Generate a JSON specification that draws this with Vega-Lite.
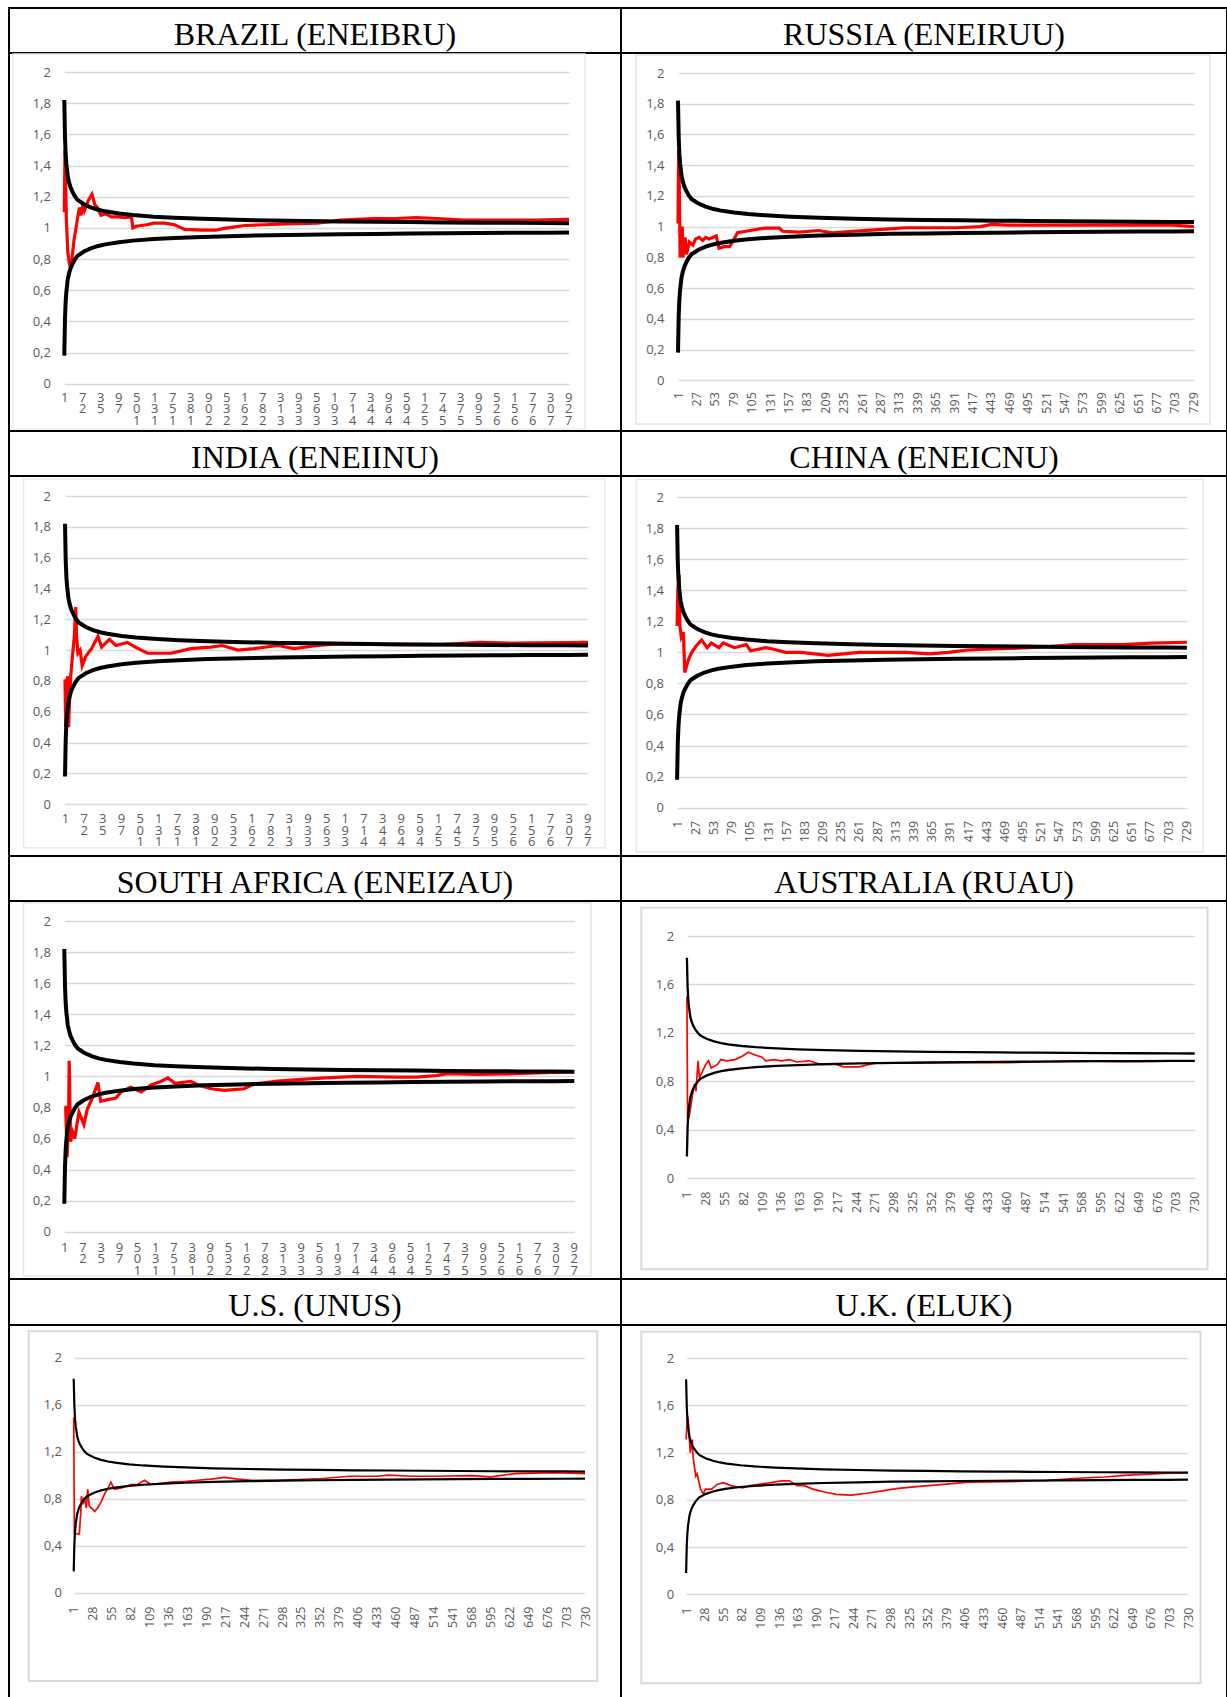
{
  "$schema": "https://vega.github.io/schema/vega-lite/v6.json",
  "padding": {"left": 8, "top": 7, "right": 0, "bottom": 0},
  "background": "white",
  "spacing": 0,
  "bounds": "flush",
  "columns": 2,
  "config": {
    "view": {"stroke": "black", "strokeWidth": 2},
    "style": {"view": {"stroke": "black", "strokeWidth": 2}},
    "concat": {"spacing": 0},
    "axis": {"labelFont": "Open Sans", "labelColor": "#595959", "labelFontSize": 13, "ticks": false, "domain": false, "labelFlush": false, "labelOverlap": false, "labelBound": false},
    "axisX": {"grid": false},
    "axisY": {"grid": true, "gridColor": "#d9d9d9", "gridWidth": 1.3}
  },
  "datasets": {
    "bounds": [
      {"n": 1, "u": 1.82, "l": 0.18}, {"n": 2, "u": 1.58, "l": 0.42}, {"n": 3, "u": 1.47, "l": 0.53},
      {"n": 4, "u": 1.41, "l": 0.59}, {"n": 6, "u": 1.33, "l": 0.67}, {"n": 8, "u": 1.29, "l": 0.71},
      {"n": 10, "u": 1.26, "l": 0.74}, {"n": 13, "u": 1.23, "l": 0.77}, {"n": 16, "u": 1.205, "l": 0.795},
      {"n": 20, "u": 1.18, "l": 0.82}, {"n": 25, "u": 1.165, "l": 0.835}, {"n": 30, "u": 1.15, "l": 0.85},
      {"n": 40, "u": 1.13, "l": 0.87}, {"n": 50, "u": 1.116, "l": 0.884}, {"n": 60, "u": 1.106, "l": 0.894},
      {"n": 80, "u": 1.092, "l": 0.908}, {"n": 100, "u": 1.082, "l": 0.918}, {"n": 130, "u": 1.072, "l": 0.928},
      {"n": 160, "u": 1.065, "l": 0.935}, {"n": 200, "u": 1.058, "l": 0.942}, {"n": 250, "u": 1.052, "l": 0.948},
      {"n": 300, "u": 1.047, "l": 0.953}, {"n": 350, "u": 1.044, "l": 0.956}, {"n": 400, "u": 1.041, "l": 0.959},
      {"n": 450, "u": 1.039, "l": 0.961}, {"n": 500, "u": 1.037, "l": 0.963}, {"n": 550, "u": 1.035, "l": 0.965},
      {"n": 600, "u": 1.033, "l": 0.967}, {"n": 650, "u": 1.032, "l": 0.968}, {"n": 700, "u": 1.031, "l": 0.969},
      {"n": 730, "u": 1.03, "l": 0.97}
    ],
    "frame": [{"k": "f"}],
    "red": [
      {"p":"BR","n":1,"v":1.1},{"p":"BR","n":2,"v":1.5},{"p":"BR","n":3,"v":1.3},{"p":"BR","n":4,"v":1.05},{"p":"BR","n":6,"v":0.85},{"p":"BR","n":8,"v":0.78},{"p":"BR","n":10,"v":0.74},{"p":"BR","n":12,"v":0.8},{"p":"BR","n":15,"v":0.92},{"p":"BR","n":18,"v":1.0},{"p":"BR","n":20,"v":1.06},{"p":"BR","n":23,"v":1.13},{"p":"BR","n":25,"v":1.08},{"p":"BR","n":28,"v":1.15},{"p":"BR","n":30,"v":1.11},{"p":"BR","n":35,"v":1.17},{"p":"BR","n":41,"v":1.215},{"p":"BR","n":45,"v":1.15},{"p":"BR","n":49,"v":1.13},{"p":"BR","n":54,"v":1.08},{"p":"BR","n":61,"v":1.09},{"p":"BR","n":69,"v":1.07},{"p":"BR","n":78,"v":1.07},{"p":"BR","n":88,"v":1.065},{"p":"BR","n":98,"v":1.07},{"p":"BR","n":100,"v":1.0},{"p":"BR","n":105,"v":1.01},{"p":"BR","n":120,"v":1.02},{"p":"BR","n":130,"v":1.03},{"p":"BR","n":146,"v":1.03},{"p":"BR","n":160,"v":1.02},{"p":"BR","n":170,"v":1.0},{"p":"BR","n":175,"v":0.99},{"p":"BR","n":200,"v":0.985},{"p":"BR","n":220,"v":0.985},{"p":"BR","n":230,"v":0.995},{"p":"BR","n":245,"v":1.005},{"p":"BR","n":262,"v":1.015},{"p":"BR","n":290,"v":1.02},{"p":"BR","n":320,"v":1.025},{"p":"BR","n":366,"v":1.03},{"p":"BR","n":385,"v":1.04},{"p":"BR","n":400,"v":1.05},{"p":"BR","n":447,"v":1.06},{"p":"BR","n":480,"v":1.06},{"p":"BR","n":510,"v":1.065},{"p":"BR","n":539,"v":1.06},{"p":"BR","n":560,"v":1.055},{"p":"BR","n":579,"v":1.05},{"p":"BR","n":620,"v":1.05},{"p":"BR","n":680,"v":1.05},{"p":"BR","n":730,"v":1.055},
      {"p":"RU","n":1,"v":1.02},{"p":"RU","n":2,"v":1.5},{"p":"RU","n":3,"v":1.2},{"p":"RU","n":4,"v":0.8},{"p":"RU","n":5,"v":0.9},{"p":"RU","n":7,"v":1.0},{"p":"RU","n":8,"v":0.8},{"p":"RU","n":11,"v":0.93},{"p":"RU","n":13,"v":0.82},{"p":"RU","n":17,"v":0.9},{"p":"RU","n":22,"v":0.88},{"p":"RU","n":26,"v":0.92},{"p":"RU","n":31,"v":0.93},{"p":"RU","n":36,"v":0.91},{"p":"RU","n":40,"v":0.93},{"p":"RU","n":45,"v":0.92},{"p":"RU","n":55,"v":0.94},{"p":"RU","n":59,"v":0.86},{"p":"RU","n":66,"v":0.87},{"p":"RU","n":74,"v":0.87},{"p":"RU","n":78,"v":0.9},{"p":"RU","n":85,"v":0.96},{"p":"RU","n":97,"v":0.97},{"p":"RU","n":116,"v":0.985},{"p":"RU","n":125,"v":0.99},{"p":"RU","n":144,"v":0.99},{"p":"RU","n":149,"v":0.97},{"p":"RU","n":172,"v":0.965},{"p":"RU","n":200,"v":0.975},{"p":"RU","n":219,"v":0.96},{"p":"RU","n":248,"v":0.97},{"p":"RU","n":274,"v":0.978},{"p":"RU","n":300,"v":0.985},{"p":"RU","n":323,"v":0.993},{"p":"RU","n":394,"v":0.993},{"p":"RU","n":428,"v":1.0},{"p":"RU","n":444,"v":1.015},{"p":"RU","n":466,"v":1.01},{"p":"RU","n":520,"v":1.01},{"p":"RU","n":576,"v":1.01},{"p":"RU","n":650,"v":1.01},{"p":"RU","n":700,"v":1.01},{"p":"RU","n":730,"v":1.0},
      {"p":"IN","n":1,"v":0.81},{"p":"IN","n":2,"v":0.5},{"p":"IN","n":3,"v":0.8},{"p":"IN","n":5,"v":0.83},{"p":"IN","n":6,"v":0.5},{"p":"IN","n":8,"v":0.75},{"p":"IN","n":9,"v":0.83},{"p":"IN","n":11,"v":0.94},{"p":"IN","n":14,"v":1.09},{"p":"IN","n":16,"v":1.28},{"p":"IN","n":17,"v":1.1},{"p":"IN","n":19,"v":0.98},{"p":"IN","n":22,"v":1.0},{"p":"IN","n":25,"v":0.9},{"p":"IN","n":30,"v":0.96},{"p":"IN","n":38,"v":1.01},{"p":"IN","n":47,"v":1.09},{"p":"IN","n":52,"v":1.02},{"p":"IN","n":63,"v":1.07},{"p":"IN","n":72,"v":1.03},{"p":"IN","n":88,"v":1.05},{"p":"IN","n":99,"v":1.02},{"p":"IN","n":116,"v":0.98},{"p":"IN","n":132,"v":0.98},{"p":"IN","n":149,"v":0.98},{"p":"IN","n":176,"v":1.01},{"p":"IN","n":204,"v":1.02},{"p":"IN","n":220,"v":1.03},{"p":"IN","n":242,"v":1.0},{"p":"IN","n":264,"v":1.01},{"p":"IN","n":298,"v":1.03},{"p":"IN","n":320,"v":1.01},{"p":"IN","n":353,"v":1.03},{"p":"IN","n":380,"v":1.04},{"p":"IN","n":463,"v":1.035},{"p":"IN","n":518,"v":1.035},{"p":"IN","n":579,"v":1.05},{"p":"IN","n":628,"v":1.045},{"p":"IN","n":730,"v":1.05},
      {"p":"CN","n":1,"v":1.17},{"p":"CN","n":2,"v":1.4},{"p":"CN","n":4,"v":1.5},{"p":"CN","n":5,"v":1.17},{"p":"CN","n":7,"v":1.1},{"p":"CN","n":10,"v":1.13},{"p":"CN","n":12,"v":0.87},{"p":"CN","n":17,"v":0.95},{"p":"CN","n":22,"v":1.0},{"p":"CN","n":28,"v":1.04},{"p":"CN","n":36,"v":1.08},{"p":"CN","n":44,"v":1.03},{"p":"CN","n":50,"v":1.06},{"p":"CN","n":61,"v":1.03},{"p":"CN","n":67,"v":1.06},{"p":"CN","n":83,"v":1.03},{"p":"CN","n":100,"v":1.05},{"p":"CN","n":106,"v":1.01},{"p":"CN","n":128,"v":1.03},{"p":"CN","n":139,"v":1.02},{"p":"CN","n":156,"v":1.0},{"p":"CN","n":178,"v":1.0},{"p":"CN","n":217,"v":0.98},{"p":"CN","n":239,"v":0.99},{"p":"CN","n":261,"v":1.0},{"p":"CN","n":284,"v":1.0},{"p":"CN","n":328,"v":1.0},{"p":"CN","n":362,"v":0.99},{"p":"CN","n":389,"v":1.0},{"p":"CN","n":417,"v":1.015},{"p":"CN","n":473,"v":1.025},{"p":"CN","n":528,"v":1.035},{"p":"CN","n":568,"v":1.05},{"p":"CN","n":640,"v":1.05},{"p":"CN","n":679,"v":1.06},{"p":"CN","n":730,"v":1.065},
      {"p":"ZA","n":1,"v":0.8},{"p":"ZA","n":3,"v":0.8},{"p":"ZA","n":5,"v":0.48},{"p":"ZA","n":7,"v":0.69},{"p":"ZA","n":8,"v":1.1},{"p":"ZA","n":10,"v":0.58},{"p":"ZA","n":13,"v":0.64},{"p":"ZA","n":16,"v":0.6},{"p":"ZA","n":19,"v":0.69},{"p":"ZA","n":22,"v":0.77},{"p":"ZA","n":29,"v":0.69},{"p":"ZA","n":34,"v":0.79},{"p":"ZA","n":41,"v":0.86},{"p":"ZA","n":49,"v":0.96},{"p":"ZA","n":53,"v":0.84},{"p":"ZA","n":63,"v":0.85},{"p":"ZA","n":75,"v":0.86},{"p":"ZA","n":82,"v":0.9},{"p":"ZA","n":96,"v":0.93},{"p":"ZA","n":111,"v":0.9},{"p":"ZA","n":125,"v":0.945},{"p":"ZA","n":139,"v":0.967},{"p":"ZA","n":149,"v":0.99},{"p":"ZA","n":159,"v":0.955},{"p":"ZA","n":182,"v":0.967},{"p":"ZA","n":192,"v":0.945},{"p":"ZA","n":211,"v":0.92},{"p":"ZA","n":230,"v":0.91},{"p":"ZA","n":258,"v":0.92},{"p":"ZA","n":272,"v":0.95},{"p":"ZA","n":306,"v":0.97},{"p":"ZA","n":340,"v":0.98},{"p":"ZA","n":374,"v":0.99},{"p":"ZA","n":419,"v":1.0},{"p":"ZA","n":476,"v":0.995},{"p":"ZA","n":504,"v":0.995},{"p":"ZA","n":532,"v":1.005},{"p":"ZA","n":549,"v":1.017},{"p":"ZA","n":589,"v":1.013},{"p":"ZA","n":645,"v":1.017},{"p":"ZA","n":730,"v":1.03},
      {"p":"AU","n":1,"v":1.5},{"p":"AU","n":2,"v":0.5},{"p":"AU","n":4,"v":0.5},{"p":"AU","n":7,"v":0.61},{"p":"AU","n":9,"v":0.69},{"p":"AU","n":12,"v":0.78},{"p":"AU","n":14,"v":0.72},{"p":"AU","n":17,"v":0.97},{"p":"AU","n":19,"v":0.83},{"p":"AU","n":24,"v":0.89},{"p":"AU","n":28,"v":0.94},{"p":"AU","n":32,"v":0.97},{"p":"AU","n":36,"v":0.91},{"p":"AU","n":45,"v":0.94},{"p":"AU","n":50,"v":0.98},{"p":"AU","n":58,"v":0.97},{"p":"AU","n":70,"v":0.98},{"p":"AU","n":81,"v":1.01},{"p":"AU","n":89,"v":1.04},{"p":"AU","n":98,"v":1.02},{"p":"AU","n":109,"v":1.0},{"p":"AU","n":114,"v":0.97},{"p":"AU","n":126,"v":0.98},{"p":"AU","n":137,"v":0.97},{"p":"AU","n":148,"v":0.98},{"p":"AU","n":159,"v":0.96},{"p":"AU","n":176,"v":0.97},{"p":"AU","n":193,"v":0.94},{"p":"AU","n":215,"v":0.94},{"p":"AU","n":226,"v":0.92},{"p":"AU","n":248,"v":0.92},{"p":"AU","n":271,"v":0.95},{"p":"AU","n":293,"v":0.95},{"p":"AU","n":349,"v":0.955},{"p":"AU","n":405,"v":0.955},{"p":"AU","n":461,"v":0.955},{"p":"AU","n":517,"v":0.963},{"p":"AU","n":572,"v":0.97},{"p":"AU","n":628,"v":0.963},{"p":"AU","n":730,"v":0.97},
      {"p":"US","n":1,"v":1.49},{"p":"US","n":2,"v":0.5},{"p":"US","n":9,"v":0.5},{"p":"US","n":11,"v":0.67},{"p":"US","n":12,"v":0.82},{"p":"US","n":14,"v":0.75},{"p":"US","n":16,"v":0.81},{"p":"US","n":19,"v":0.72},{"p":"US","n":21,"v":0.88},{"p":"US","n":23,"v":0.74},{"p":"US","n":26,"v":0.72},{"p":"US","n":31,"v":0.69},{"p":"US","n":35,"v":0.72},{"p":"US","n":40,"v":0.77},{"p":"US","n":45,"v":0.84},{"p":"US","n":50,"v":0.89},{"p":"US","n":54,"v":0.94},{"p":"US","n":59,"v":0.88},{"p":"US","n":69,"v":0.89},{"p":"US","n":83,"v":0.92},{"p":"US","n":92,"v":0.92},{"p":"US","n":102,"v":0.956},{"p":"US","n":111,"v":0.92},{"p":"US","n":126,"v":0.93},{"p":"US","n":140,"v":0.94},{"p":"US","n":159,"v":0.945},{"p":"US","n":178,"v":0.956},{"p":"US","n":197,"v":0.965},{"p":"US","n":216,"v":0.98},{"p":"US","n":235,"v":0.965},{"p":"US","n":254,"v":0.955},{"p":"US","n":292,"v":0.955},{"p":"US","n":348,"v":0.967},{"p":"US","n":394,"v":0.99},{"p":"US","n":433,"v":0.99},{"p":"US","n":450,"v":1.0},{"p":"US","n":483,"v":0.99},{"p":"US","n":518,"v":0.99},{"p":"US","n":568,"v":0.995},{"p":"US","n":596,"v":0.985},{"p":"US","n":630,"v":1.013},{"p":"US","n":687,"v":1.02},{"p":"US","n":730,"v":1.013},
      {"p":"UK","n":1,"v":1.31},{"p":"UK","n":3,"v":1.51},{"p":"UK","n":4,"v":1.48},{"p":"UK","n":7,"v":1.2},{"p":"UK","n":10,"v":1.31},{"p":"UK","n":11,"v":1.17},{"p":"UK","n":15,"v":1.0},{"p":"UK","n":17,"v":1.02},{"p":"UK","n":22,"v":0.89},{"p":"UK","n":26,"v":0.85},{"p":"UK","n":29,"v":0.89},{"p":"UK","n":38,"v":0.89},{"p":"UK","n":46,"v":0.93},{"p":"UK","n":55,"v":0.945},{"p":"UK","n":66,"v":0.92},{"p":"UK","n":83,"v":0.9},{"p":"UK","n":94,"v":0.92},{"p":"UK","n":117,"v":0.94},{"p":"UK","n":140,"v":0.96},{"p":"UK","n":151,"v":0.96},{"p":"UK","n":162,"v":0.92},{"p":"UK","n":173,"v":0.92},{"p":"UK","n":185,"v":0.89},{"p":"UK","n":202,"v":0.866},{"p":"UK","n":219,"v":0.846},{"p":"UK","n":241,"v":0.84},{"p":"UK","n":264,"v":0.855},{"p":"UK","n":286,"v":0.875},{"p":"UK","n":309,"v":0.897},{"p":"UK","n":332,"v":0.91},{"p":"UK","n":354,"v":0.92},{"p":"UK","n":383,"v":0.934},{"p":"UK","n":411,"v":0.95},{"p":"UK","n":467,"v":0.954},{"p":"UK","n":524,"v":0.962},{"p":"UK","n":563,"v":0.98},{"p":"UK","n":609,"v":0.993},{"p":"UK","n":637,"v":1.007},{"p":"UK","n":693,"v":1.024},{"p":"UK","n":730,"v":1.03}
    ]
  },
  "concat": [
    {"width": 612, "height": 45, "view": {"stroke": "black", "strokeWidth": 2}, "data": {"values": [{"t": "BRAZIL (ENEIBRU)"}]}, "mark": {"type": "text", "font": "Liberation Serif", "fontSize": 32, "dy": 4, "color": "black"}, "encoding": {"text": {"field": "t"}, "x": {"datum": 0.5, "type": "quantitative", "scale": {"domain": [0, 1]}, "axis": null}, "y": {"datum": 0.5, "type": "quantitative", "scale": {"domain": [0, 1]}, "axis": null}}},
    {"width": 606, "height": 45, "view": {"stroke": "black", "strokeWidth": 2}, "data": {"values": [{"t": "RUSSIA (ENEIRUU)"}]}, "mark": {"type": "text", "font": "Liberation Serif", "fontSize": 32, "dy": 4, "color": "black"}, "encoding": {"text": {"field": "t"}, "x": {"datum": 0.5, "type": "quantitative", "scale": {"domain": [0, 1]}, "axis": null}, "y": {"datum": 0.5, "type": "quantitative", "scale": {"domain": [0, 1]}, "axis": null}}},
    {"width": 612, "height": 378,
     "layer": [
       {"data": {"name": "frame"}, "mark": {"type": "rect", "filled": false, "stroke": "#ebebeb", "strokeWidth": 1.5},
        "encoding": {
          "x": {"datum": -73.1, "type": "quantitative", "title": null, "scale": {"domain": [1, 730], "range": [55.3, 560], "nice": false, "zero": false},
                "axis": {"values": [1,27,53,79,105,131,157,183,209,235,261,287,313,339,365,391,417,443,469,495,521,547,573,599,625,651,677,703,729], "format": "d", "offset": -47.3, "labelPadding": 7.3, "labelAngle": 0, "labelAlign": "center", "labelBaseline": "top", "labelDx": 6, "labelLineHeight": 11.5, "labelOverlap": false, "labelFlush": false, "labelBound": false, "labelExpr": "reverse(split(datum.label, ''))"}},
          "x2": {"datum": 753.1},
          "y": {"datum": 2.1156, "type": "quantitative", "title": null, "scale": {"domain": [0, 2], "range": [330.7, 19], "nice": false, "zero": false},
                "axis": {"values": [0,0.2,0.4,0.6,0.8,1,1.2,1.4,1.6,1.8,2], "offset": -55.3, "labelPadding": 13.9, "labelOverlap": false, "labelFlush": false, "labelExpr": "replace(format(datum.value, '.1~f'), '.', ',')"}},
          "y2": {"datum": -0.2907}}},
       {"encoding": {
         "x": {"field": "n", "type": "quantitative", "title": null, "scale": {"domain": [1, 730], "range": [55.3, 560], "nice": false, "zero": false},
               "axis": {"values": [1,27,53,79,105,131,157,183,209,235,261,287,313,339,365,391,417,443,469,495,521,547,573,599,625,651,677,703,729], "format": "d", "offset": -47.3, "labelPadding": 7.3, "labelAngle": 0, "labelAlign": "center", "labelBaseline": "top", "labelDx": 6, "labelLineHeight": 11.5, "labelOverlap": false, "labelFlush": false, "labelBound": false, "labelExpr": "reverse(split(datum.label, ''))"}},
         "y": {"field": "v", "type": "quantitative", "title": null, "scale": {"domain": [0, 2], "range": [330.7, 19], "nice": false, "zero": false},
               "axis": {"values": [0,0.2,0.4,0.6,0.8,1,1.2,1.4,1.6,1.8,2], "offset": -55.3, "labelPadding": 13.9, "labelOverlap": false, "labelFlush": false, "labelExpr": "replace(format(datum.value, '.1~f'), '.', ',')"}}
        },
        "layer": [
         {"data": {"name": "red"}, "transform": [{"filter": "datum.p === 'BR'"}], "mark": {"type": "line", "color": "#ff0000", "strokeWidth": 3.2}},
         {"data": {"name": "bounds"}, "transform": [{"fold": ["u", "l"], "as": ["s", "v"]}], "mark": {"type": "line", "color": "black", "strokeWidth": 4}, "encoding": {"detail": {"field": "s"}}}
       ]}
     ]},
    {"width": 606, "height": 378,
     "layer": [
       {"data": {"name": "frame"}, "mark": {"type": "rect", "filled": false, "stroke": "#e3e3e3", "strokeWidth": 1.5},
        "encoding": {
          "x": {"datum": -58.3, "type": "quantitative", "title": null, "scale": {"domain": [1, 730], "range": [57, 573], "nice": false, "zero": false},
                "axis": {"values": [1,27,53,79,105,131,157,183,209,235,261,287,313,339,365,391,417,443,469,495,521,547,573,599,625,651,677,703,729], "format": "d", "offset": -50.7, "labelPadding": 11.4, "labelAngle": -90, "labelFontSize": 12.5, "labelOverlap": false, "labelFlush": false, "labelBound": false}},
          "x2": {"datum": 752.6},
          "y": {"datum": 2.1172, "type": "quantitative", "title": null, "scale": {"domain": [0, 2], "range": [327.3, 20], "nice": false, "zero": false},
                "axis": {"values": [0,0.2,0.4,0.6,0.8,1,1.2,1.4,1.6,1.8,2], "offset": -57, "labelPadding": 14.1, "labelOverlap": false, "labelFlush": false, "labelExpr": "replace(format(datum.value, '.1~f'), '.', ',')"}},
          "y2": {"datum": -0.2844}}},
       {"encoding": {
         "x": {"field": "n", "type": "quantitative", "title": null, "scale": {"domain": [1, 730], "range": [57, 573], "nice": false, "zero": false},
               "axis": {"values": [1,27,53,79,105,131,157,183,209,235,261,287,313,339,365,391,417,443,469,495,521,547,573,599,625,651,677,703,729], "format": "d", "offset": -50.7, "labelPadding": 11.4, "labelAngle": -90, "labelFontSize": 12.5, "labelOverlap": false, "labelFlush": false, "labelBound": false}},
         "y": {"field": "v", "type": "quantitative", "title": null, "scale": {"domain": [0, 2], "range": [327.3, 20], "nice": false, "zero": false},
               "axis": {"values": [0,0.2,0.4,0.6,0.8,1,1.2,1.4,1.6,1.8,2], "offset": -57, "labelPadding": 14.1, "labelOverlap": false, "labelFlush": false, "labelExpr": "replace(format(datum.value, '.1~f'), '.', ',')"}}
        },
        "layer": [
         {"data": {"name": "red"}, "transform": [{"filter": "datum.p === 'RU'"}], "mark": {"type": "line", "color": "#ff0000", "strokeWidth": 3.2}},
         {"data": {"name": "bounds"}, "transform": [{"fold": ["u", "l"], "as": ["s", "v"]}], "mark": {"type": "line", "color": "black", "strokeWidth": 4}, "encoding": {"detail": {"field": "s"}}}
       ]}
     ]},
    {"width": 612, "height": 45, "view": {"stroke": "black", "strokeWidth": 2}, "data": {"values": [{"t": "INDIA (ENEIINU)"}]}, "mark": {"type": "text", "font": "Liberation Serif", "fontSize": 32, "dy": 4, "color": "black"}, "encoding": {"text": {"field": "t"}, "x": {"datum": 0.5, "type": "quantitative", "scale": {"domain": [0, 1]}, "axis": null}, "y": {"datum": 0.5, "type": "quantitative", "scale": {"domain": [0, 1]}, "axis": null}}},
    {"width": 606, "height": 45, "view": {"stroke": "black", "strokeWidth": 2}, "data": {"values": [{"t": "CHINA (ENEICNU)"}]}, "mark": {"type": "text", "font": "Liberation Serif", "fontSize": 32, "dy": 4, "color": "black"}, "encoding": {"text": {"field": "t"}, "x": {"datum": 0.5, "type": "quantitative", "scale": {"domain": [0, 1]}, "axis": null}, "y": {"datum": 0.5, "type": "quantitative", "scale": {"domain": [0, 1]}, "axis": null}}},
    {"width": 612, "height": 380,
     "layer": [
       {"data": {"name": "frame"}, "mark": {"type": "rect", "filled": false, "stroke": "#ebebeb", "strokeWidth": 1.5},
        "encoding": {
          "x": {"datum": -56.85, "type": "quantitative", "title": null, "scale": {"domain": [1, 730], "range": [56, 579], "nice": false, "zero": false},
                "axis": {"values": [1,27,53,79,105,131,157,183,209,235,261,287,313,339,365,391,417,443,469,495,521,547,573,599,625,651,677,703,729], "format": "d", "offset": -51.7, "labelPadding": 8.4, "labelAngle": 0, "labelAlign": "center", "labelBaseline": "top", "labelDx": 6, "labelLineHeight": 11.5, "labelOverlap": false, "labelFlush": false, "labelBound": false, "labelExpr": "reverse(split(datum.label, ''))"}},
          "x2": {"datum": 753.7},
          "y": {"datum": 2.1103, "type": "quantitative", "title": null, "scale": {"domain": [0, 2], "range": [328.3, 20], "nice": false, "zero": false},
                "axis": {"values": [0,0.2,0.4,0.6,0.8,1,1.2,1.4,1.6,1.8,2], "offset": -56, "labelPadding": 14.6, "labelOverlap": false, "labelFlush": false, "labelExpr": "replace(format(datum.value, '.1~f'), '.', ',')"}},
          "y2": {"datum": -0.2815}}},
       {"encoding": {
         "x": {"field": "n", "type": "quantitative", "title": null, "scale": {"domain": [1, 730], "range": [56, 579], "nice": false, "zero": false},
               "axis": {"values": [1,27,53,79,105,131,157,183,209,235,261,287,313,339,365,391,417,443,469,495,521,547,573,599,625,651,677,703,729], "format": "d", "offset": -51.7, "labelPadding": 8.4, "labelAngle": 0, "labelAlign": "center", "labelBaseline": "top", "labelDx": 6, "labelLineHeight": 11.5, "labelOverlap": false, "labelFlush": false, "labelBound": false, "labelExpr": "reverse(split(datum.label, ''))"}},
         "y": {"field": "v", "type": "quantitative", "title": null, "scale": {"domain": [0, 2], "range": [328.3, 20], "nice": false, "zero": false},
               "axis": {"values": [0,0.2,0.4,0.6,0.8,1,1.2,1.4,1.6,1.8,2], "offset": -56, "labelPadding": 14.6, "labelOverlap": false, "labelFlush": false, "labelExpr": "replace(format(datum.value, '.1~f'), '.', ',')"}}
        },
        "layer": [
         {"data": {"name": "red"}, "transform": [{"filter": "datum.p === 'IN'"}], "mark": {"type": "line", "color": "#ff0000", "strokeWidth": 3.2}},
         {"data": {"name": "bounds"}, "transform": [{"fold": ["u", "l"], "as": ["s", "v"]}], "mark": {"type": "line", "color": "black", "strokeWidth": 4}, "encoding": {"detail": {"field": "s"}}}
       ]}
     ]},
    {"width": 606, "height": 380,
     "layer": [
       {"data": {"name": "frame"}, "mark": {"type": "rect", "filled": false, "stroke": "#e6e6e6", "strokeWidth": 1.5},
        "encoding": {
          "x": {"datum": -57.34, "type": "quantitative", "title": null, "scale": {"domain": [1, 730], "range": [56.1, 565.9], "nice": false, "zero": false},
                "axis": {"values": [1,27,53,79,105,131,157,183,209,235,261,287,313,339,365,391,417,443,469,495,521,547,573,599,625,651,677,703,729], "format": "d", "offset": -48.3, "labelPadding": 12.6, "labelAngle": -90, "labelFontSize": 12.5, "labelOverlap": false, "labelFlush": false, "labelBound": false}},
          "x2": {"datum": 752.7},
          "y": {"datum": 2.1139, "type": "quantitative", "title": null, "scale": {"domain": [0, 2], "range": [331.7, 21], "nice": false, "zero": false},
                "axis": {"values": [0,0.2,0.4,0.6,0.8,1,1.2,1.4,1.6,1.8,2], "offset": -56.1, "labelPadding": 13.6, "labelOverlap": false, "labelFlush": false, "labelExpr": "replace(format(datum.value, '.1~f'), '.', ',')"}},
          "y2": {"datum": -0.2852}}},
       {"encoding": {
         "x": {"field": "n", "type": "quantitative", "title": null, "scale": {"domain": [1, 730], "range": [56.1, 565.9], "nice": false, "zero": false},
               "axis": {"values": [1,27,53,79,105,131,157,183,209,235,261,287,313,339,365,391,417,443,469,495,521,547,573,599,625,651,677,703,729], "format": "d", "offset": -48.3, "labelPadding": 12.6, "labelAngle": -90, "labelFontSize": 12.5, "labelOverlap": false, "labelFlush": false, "labelBound": false}},
         "y": {"field": "v", "type": "quantitative", "title": null, "scale": {"domain": [0, 2], "range": [331.7, 21], "nice": false, "zero": false},
               "axis": {"values": [0,0.2,0.4,0.6,0.8,1,1.2,1.4,1.6,1.8,2], "offset": -56.1, "labelPadding": 13.6, "labelOverlap": false, "labelFlush": false, "labelExpr": "replace(format(datum.value, '.1~f'), '.', ',')"}}
        },
        "layer": [
         {"data": {"name": "red"}, "transform": [{"filter": "datum.p === 'CN'"}], "mark": {"type": "line", "color": "#ff0000", "strokeWidth": 3.2}},
         {"data": {"name": "bounds"}, "transform": [{"fold": ["u", "l"], "as": ["s", "v"]}], "mark": {"type": "line", "color": "black", "strokeWidth": 4}, "encoding": {"detail": {"field": "s"}}}
       ]}
     ]},
    {"width": 612, "height": 45, "view": {"stroke": "black", "strokeWidth": 2}, "data": {"values": [{"t": "SOUTH AFRICA (ENEIZAU)"}]}, "mark": {"type": "text", "font": "Liberation Serif", "fontSize": 32, "dy": 4, "color": "black"}, "encoding": {"text": {"field": "t"}, "x": {"datum": 0.5, "type": "quantitative", "scale": {"domain": [0, 1]}, "axis": null}, "y": {"datum": 0.5, "type": "quantitative", "scale": {"domain": [0, 1]}, "axis": null}}},
    {"width": 606, "height": 45, "view": {"stroke": "black", "strokeWidth": 2}, "data": {"values": [{"t": "AUSTRALIA (RUAU)"}]}, "mark": {"type": "text", "font": "Liberation Serif", "fontSize": 32, "dy": 4, "color": "black"}, "encoding": {"text": {"field": "t"}, "x": {"datum": 0.5, "type": "quantitative", "scale": {"domain": [0, 1]}, "axis": null}, "y": {"datum": 0.5, "type": "quantitative", "scale": {"domain": [0, 1]}, "axis": null}}},
    {"width": 612, "height": 378,
     "layer": [
       {"data": {"name": "frame"}, "mark": {"type": "rect", "filled": false, "stroke": "#e6e6e6", "strokeWidth": 1.5},
        "encoding": {
          "x": {"datum": -57.32, "type": "quantitative", "title": null, "scale": {"domain": [1, 730], "range": [55.3, 565.3], "nice": false, "zero": false},
                "axis": {"values": [1,27,53,79,105,131,157,183,209,235,261,287,313,339,365,391,417,443,469,495,521,547,573,599,625,651,677,703,729], "format": "d", "offset": -47.3, "labelPadding": 9.3, "labelAngle": 0, "labelAlign": "center", "labelBaseline": "top", "labelDx": 6, "labelLineHeight": 11.5, "labelOverlap": false, "labelFlush": false, "labelBound": false, "labelExpr": "reverse(split(datum.label, ''))"}},
          "x2": {"datum": 753.9},
          "y": {"datum": 2.1178, "type": "quantitative", "title": null, "scale": {"domain": [0, 2], "range": [330.7, 20], "nice": false, "zero": false},
                "axis": {"values": [0,0.2,0.4,0.6,0.8,1,1.2,1.4,1.6,1.8,2], "offset": -55.3, "labelPadding": 13.9, "labelOverlap": false, "labelFlush": false, "labelExpr": "replace(format(datum.value, '.1~f'), '.', ',')"}},
          "y2": {"datum": -0.2852}}},
       {"encoding": {
         "x": {"field": "n", "type": "quantitative", "title": null, "scale": {"domain": [1, 730], "range": [55.3, 565.3], "nice": false, "zero": false},
               "axis": {"values": [1,27,53,79,105,131,157,183,209,235,261,287,313,339,365,391,417,443,469,495,521,547,573,599,625,651,677,703,729], "format": "d", "offset": -47.3, "labelPadding": 9.3, "labelAngle": 0, "labelAlign": "center", "labelBaseline": "top", "labelDx": 6, "labelLineHeight": 11.5, "labelOverlap": false, "labelFlush": false, "labelBound": false, "labelExpr": "reverse(split(datum.label, ''))"}},
         "y": {"field": "v", "type": "quantitative", "title": null, "scale": {"domain": [0, 2], "range": [330.7, 20], "nice": false, "zero": false},
               "axis": {"values": [0,0.2,0.4,0.6,0.8,1,1.2,1.4,1.6,1.8,2], "offset": -55.3, "labelPadding": 13.9, "labelOverlap": false, "labelFlush": false, "labelExpr": "replace(format(datum.value, '.1~f'), '.', ',')"}}
        },
        "layer": [
         {"data": {"name": "red"}, "transform": [{"filter": "datum.p === 'ZA'"}], "mark": {"type": "line", "color": "#ff0000", "strokeWidth": 3.2}},
         {"data": {"name": "bounds"}, "transform": [{"fold": ["u", "l"], "as": ["s", "v"]}], "mark": {"type": "line", "color": "black", "strokeWidth": 4}, "encoding": {"detail": {"field": "s"}}}
       ]}
     ]},
    {"width": 606, "height": 378,
     "layer": [
       {"data": {"name": "frame"}, "mark": {"type": "rect", "filled": false, "stroke": "#d9d9d9", "strokeWidth": 2},
        "encoding": {
          "x": {"datum": -64.46, "type": "quantitative", "title": null, "scale": {"domain": [1, 730], "range": [65.9, 573.7], "nice": false, "zero": false},
                "axis": {"values": [1,28,55,82,109,136,163,190,217,244,271,298,325,352,379,406,433,460,487,514,541,568,595,622,649,676,703,730], "format": "d", "offset": -100.7, "labelPadding": 12.7, "labelAngle": -90, "labelFontSize": 12.5, "labelOverlap": false, "labelFlush": false, "labelBound": false}},
          "x2": {"datum": 748.4},
          "y": {"datum": 2.2336, "type": "quantitative", "title": null, "scale": {"domain": [0, 2], "range": [277.3, 35], "nice": false, "zero": false},
                "axis": {"values": [0,0.4,0.8,1.2,1.6,2], "offset": -65.9, "labelPadding": 13.3, "labelOverlap": false, "labelFlush": false, "labelExpr": "replace(format(datum.value, '.1~f'), '.', ',')"}},
          "y2": {"datum": -0.7511}}},
       {"encoding": {
         "x": {"field": "n", "type": "quantitative", "title": null, "scale": {"domain": [1, 730], "range": [65.9, 573.7], "nice": false, "zero": false},
               "axis": {"values": [1,28,55,82,109,136,163,190,217,244,271,298,325,352,379,406,433,460,487,514,541,568,595,622,649,676,703,730], "format": "d", "offset": -100.7, "labelPadding": 12.7, "labelAngle": -90, "labelFontSize": 12.5, "labelOverlap": false, "labelFlush": false, "labelBound": false}},
         "y": {"field": "v", "type": "quantitative", "title": null, "scale": {"domain": [0, 2], "range": [277.3, 35], "nice": false, "zero": false},
               "axis": {"values": [0,0.4,0.8,1.2,1.6,2], "offset": -65.9, "labelPadding": 13.3, "labelOverlap": false, "labelFlush": false, "labelExpr": "replace(format(datum.value, '.1~f'), '.', ',')"}}
        },
        "layer": [
         {"data": {"name": "red"}, "transform": [{"filter": "datum.p === 'AU'"}], "mark": {"type": "line", "color": "#ff0000", "strokeWidth": 1.7}},
         {"data": {"name": "bounds"}, "transform": [{"fold": ["u", "l"], "as": ["s", "v"]}], "mark": {"type": "line", "color": "black", "strokeWidth": 2.3}, "encoding": {"detail": {"field": "s"}}}
       ]}
     ]},
    {"width": 612, "height": 46, "view": {"stroke": "black", "strokeWidth": 2}, "data": {"values": [{"t": "U.S. (UNUS)"}]}, "mark": {"type": "text", "font": "Liberation Serif", "fontSize": 32, "dy": 4, "color": "black"}, "encoding": {"text": {"field": "t"}, "x": {"datum": 0.5, "type": "quantitative", "scale": {"domain": [0, 1]}, "axis": null}, "y": {"datum": 0.5, "type": "quantitative", "scale": {"domain": [0, 1]}, "axis": null}}},
    {"width": 606, "height": 46, "view": {"stroke": "black", "strokeWidth": 2}, "data": {"values": [{"t": "U.K. (ELUK)"}]}, "mark": {"type": "text", "font": "Liberation Serif", "fontSize": 32, "dy": 4, "color": "black"}, "encoding": {"text": {"field": "t"}, "x": {"datum": 0.5, "type": "quantitative", "scale": {"domain": [0, 1]}, "axis": null}, "y": {"datum": 0.5, "type": "quantitative", "scale": {"domain": [0, 1]}, "axis": null}}},
    {"width": 612, "height": 374,
     "layer": [
       {"data": {"name": "frame"}, "mark": {"type": "rect", "filled": false, "stroke": "#d9d9d9", "strokeWidth": 2},
        "encoding": {
          "x": {"datum": -63.16, "type": "quantitative", "title": null, "scale": {"domain": [1, 730], "range": [64.7, 576], "nice": false, "zero": false},
                "axis": {"values": [1,28,55,82,109,136,163,190,217,244,271,298,325,352,379,406,433,460,487,514,541,568,595,622,649,676,703,730], "format": "d", "offset": -106.5, "labelPadding": 13.5, "labelAngle": -90, "labelFontSize": 12.5, "labelOverlap": false, "labelFlush": false, "labelBound": false}},
          "x2": {"datum": 747.5},
          "y": {"datum": 2.2249, "type": "quantitative", "title": null, "scale": {"domain": [0, 2], "range": [267.5, 32.7], "nice": false, "zero": false},
                "axis": {"values": [0,0.4,0.8,1.2,1.6,2], "offset": -64.7, "labelPadding": 12.2, "labelOverlap": false, "labelFlush": false, "labelExpr": "replace(format(datum.value, '.1~f'), '.', ',')"}},
          "y2": {"datum": -0.7538}}},
       {"encoding": {
         "x": {"field": "n", "type": "quantitative", "title": null, "scale": {"domain": [1, 730], "range": [64.7, 576], "nice": false, "zero": false},
               "axis": {"values": [1,28,55,82,109,136,163,190,217,244,271,298,325,352,379,406,433,460,487,514,541,568,595,622,649,676,703,730], "format": "d", "offset": -106.5, "labelPadding": 13.5, "labelAngle": -90, "labelFontSize": 12.5, "labelOverlap": false, "labelFlush": false, "labelBound": false}},
         "y": {"field": "v", "type": "quantitative", "title": null, "scale": {"domain": [0, 2], "range": [267.5, 32.7], "nice": false, "zero": false},
               "axis": {"values": [0,0.4,0.8,1.2,1.6,2], "offset": -64.7, "labelPadding": 12.2, "labelOverlap": false, "labelFlush": false, "labelExpr": "replace(format(datum.value, '.1~f'), '.', ',')"}}
        },
        "layer": [
         {"data": {"name": "red"}, "transform": [{"filter": "datum.p === 'US'"}], "mark": {"type": "line", "color": "#ff0000", "strokeWidth": 1.7}},
         {"data": {"name": "bounds"}, "transform": [{"fold": ["u", "l"], "as": ["s", "v"]}], "mark": {"type": "line", "color": "black", "strokeWidth": 2.2}, "encoding": {"detail": {"field": "s"}}}
       ]}
     ]},
    {"width": 606, "height": 374,
     "layer": [
       {"data": {"name": "frame"}, "mark": {"type": "rect", "filled": false, "stroke": "#d9d9d9", "strokeWidth": 2},
        "encoding": {
          "x": {"datum": -64.07, "type": "quantitative", "title": null, "scale": {"domain": [1, 730], "range": [65.1, 567], "nice": false, "zero": false},
                "axis": {"values": [1,28,55,82,109,136,163,190,217,244,271,298,325,352,379,406,433,460,487,514,541,568,595,622,649,676,703,730], "format": "d", "offset": -104.7, "labelPadding": 12.7, "labelAngle": -90, "labelFontSize": 12.5, "labelOverlap": false, "labelFlush": false, "labelBound": false}},
          "x2": {"datum": 748.2},
          "y": {"datum": 2.2226, "type": "quantitative", "title": null, "scale": {"domain": [0, 2], "range": [269.3, 33], "nice": false, "zero": false},
                "axis": {"values": [0,0.4,0.8,1.2,1.6,2], "offset": -65.1, "labelPadding": 12.5, "labelOverlap": false, "labelFlush": false, "labelExpr": "replace(format(datum.value, '.1~f'), '.', ',')"}},
          "y2": {"datum": -0.7533}}},
       {"encoding": {
         "x": {"field": "n", "type": "quantitative", "title": null, "scale": {"domain": [1, 730], "range": [65.1, 567], "nice": false, "zero": false},
               "axis": {"values": [1,28,55,82,109,136,163,190,217,244,271,298,325,352,379,406,433,460,487,514,541,568,595,622,649,676,703,730], "format": "d", "offset": -104.7, "labelPadding": 12.7, "labelAngle": -90, "labelFontSize": 12.5, "labelOverlap": false, "labelFlush": false, "labelBound": false}},
         "y": {"field": "v", "type": "quantitative", "title": null, "scale": {"domain": [0, 2], "range": [269.3, 33], "nice": false, "zero": false},
               "axis": {"values": [0,0.4,0.8,1.2,1.6,2], "offset": -65.1, "labelPadding": 12.5, "labelOverlap": false, "labelFlush": false, "labelExpr": "replace(format(datum.value, '.1~f'), '.', ',')"}}
        },
        "layer": [
         {"data": {"name": "red"}, "transform": [{"filter": "datum.p === 'UK'"}], "mark": {"type": "line", "color": "#ff0000", "strokeWidth": 1.7}},
         {"data": {"name": "bounds"}, "transform": [{"fold": ["u", "l"], "as": ["s", "v"]}], "mark": {"type": "line", "color": "black", "strokeWidth": 2.2}, "encoding": {"detail": {"field": "s"}}}
       ]}
     ]}
  ]
}
